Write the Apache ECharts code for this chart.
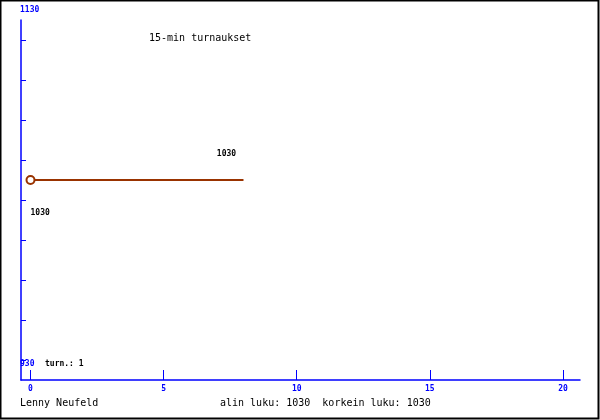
<!DOCTYPE html>
<html>
<head>
<meta charset="utf-8">
<script src="https://cdn.jsdelivr.net/npm/echarts@6/dist/echarts.min.js"></script>
<style>html,body{margin:0;padding:0;background:#fff}#c{width:600px;height:420px}</style>
</head>
<body>
<div id="c"></div>
<script>
const xValues = [0, 8];
const seriesValues = [1030, 1030];
const pointLabels = ['1030', '1030'];
const xTickValues = [0, 5, 10, 15, 20];
const yTickValues = [940, 960, 980, 1000, 1020, 1040, 1060, 1080, 1100];
const yTopLabel = '1130';
const yBottomLabel = '930';
const titleText = '15-min turnaukset';
const authorText = 'Lenny Neufeld';
const countText = 'turn.: 1';
const minText = 'alin luku: 1030';
const maxText = 'korkein luku: 1030';

const mono = 'DejaVu Sans Mono';
const blue = '#0000ff';
const lineColor = '#993300';

const labelOffsets = [[0, 33], [-17, -26]];
const labelAligns = ['left', 'center'];
const symbolSizes = [8, 0];
const data = xValues.map((x, i) => ({
  value: [x, seriesValues[i]],
  symbol: 'emptyCircle',
  symbolSize: symbolSizes[i],
  label: {
    show: true,
    formatter: pointLabels[i],
    position: 'inside',
    offset: labelOffsets[i],
    align: labelAligns[i],
    verticalAlign: 'middle',
    color: '#000',
    fontFamily: mono,
    fontSize: 8,
    fontWeight: 'bold'
  }
}));

const chart = echarts.init(document.getElementById('c'), null, {renderer: 'canvas'});
chart.setOption({
  animation: false,
  backgroundColor: '#fff',
  grid: {left: 21, right: 20, top: 20, bottom: 40, containLabel: false},
  xAxis: {
    type: 'value',
    min: -0.357,
    max: 20.64,
    axisLine: {show: true, onZero: false, lineStyle: {color: blue, width: 1.5}},
    axisTick: {show: true, inside: true, length: 10, customValues: xTickValues, lineStyle: {color: blue, width: 1}},
    axisLabel: {show: true, customValues: xTickValues, color: blue, fontFamily: mono, fontSize: 8, fontWeight: 'bold', margin: 5},
    splitLine: {show: false}
  },
  yAxis: {
    type: 'value',
    min: 930,
    max: 1110,
    axisLine: {show: true, onZero: false, lineStyle: {color: blue, width: 1.5}},
    axisTick: {show: true, inside: true, length: 5, customValues: yTickValues, lineStyle: {color: blue, width: 1}},
    axisLabel: {show: false},
    splitLine: {show: false}
  },
  series: [{
    type: 'line',
    data: data,
    showAllSymbol: true,
    itemStyle: {color: lineColor, borderColor: lineColor, borderWidth: 1},
    lineStyle: {color: lineColor, width: 1.8}
  }],
  graphic: [
    {type: 'rect', shape: {x: 0.5, y: 0.5, width: 598, height: 418}, style: {fill: 'none', stroke: '#000', lineWidth: 2}, z: 100},
    {type: 'text', left: 20, top: 6, style: {text: yTopLabel, fill: blue, font: 'bold 8px ' + mono}},
    {type: 'text', left: 20, top: 360, style: {text: yBottomLabel, fill: blue, font: 'bold 8px ' + mono}},
    {type: 'text', left: 45, top: 360, style: {text: countText, fill: '#000', font: 'bold 8px ' + mono}},
    {type: 'text', left: 149, top: 33, style: {text: titleText, fill: '#000', font: '10px ' + mono}},
    {type: 'text', left: 20, top: 398, style: {text: authorText, fill: '#000', font: '10px ' + mono}},
    {type: 'text', left: 220, top: 398, style: {text: minText + '  ' + maxText, fill: '#000', font: '10px ' + mono}}
  ]
});
</script>
</body>
</html>
